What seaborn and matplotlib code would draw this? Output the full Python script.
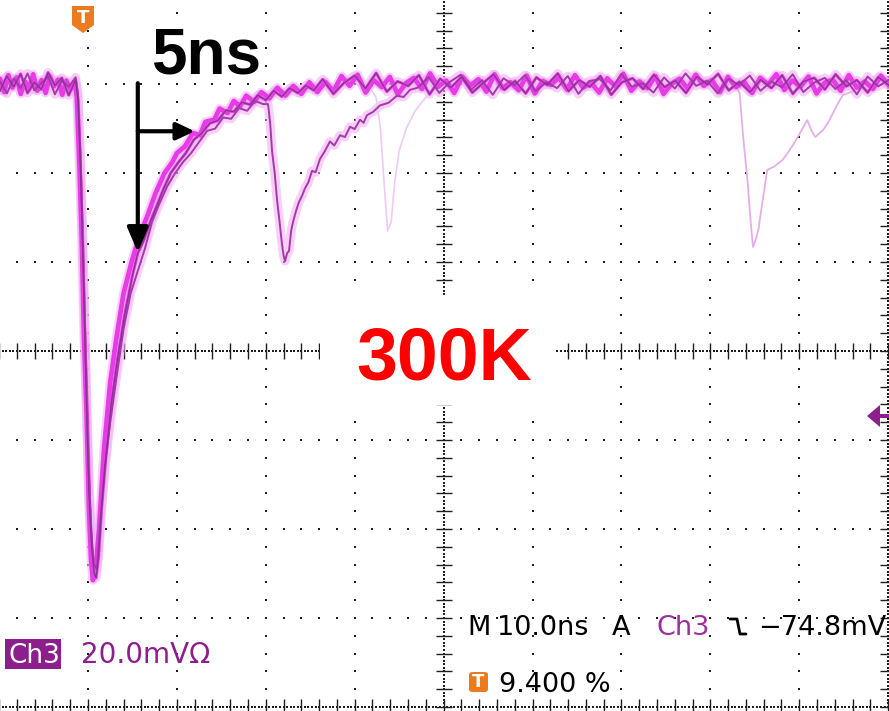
import numpy as np
import pandas as pd
import matplotlib
matplotlib.use("Agg")
import matplotlib.pyplot as plt
import matplotlib.image as mpimg
import seaborn as sns
from matplotlib.patches import Rectangle, Polygon, FancyBboxPatch
from matplotlib.lines import Line2D

# ---------------- data (time in ns from left edge of screen, voltage in mV) ----------------
# Trace A : bright persistence trace
A_pre_v = [1.2, -1.8, 2.0, -0.8, 1.5, -2.2, 0.6, -1.0, 2.2, -1.5, 0.9, -2.0, 1.8, -0.5, 1.0, -2.4, 0.8, -1.2, 0.5]
A_pulse_t = [8.75, 9.05, 9.3, 9.55, 9.85, 10.1, 10.35, 10.55, 10.9, 11.25, 11.8, 12.5, 13.2, 14.0, 14.9, 15.8,
             16.7, 17.6, 18.6, 19.5, 20.0, 20.9, 21.8, 22.6, 23.2, 24.2, 24.8, 25.7, 26.4, 27.1, 27.8, 28.7,
             29.5, 30.4, 31.3, 32.2, 33.1, 34.0, 34.9, 35.8]
A_pulse_v = [-3, -19, -35, -57, -75, -95, -107, -111.5, -108, -100, -82, -67, -57, -47, -40, -34,
             -29.5, -24.5, -20, -17.5, -15.5, -14, -11, -11.5, -8.5, -8, -5.5, -6.5, -3.8, -5, -2.6, -4,
             -1.8, -3.2, -0.8, -2.6, -0.4, -2.2, 0.4, -1.8]
A_post_v = [0.5, -1.6, 1.8, -0.4, 2.1, -1.9, 0.9, -0.7, 1.6, -2.3, 0.2, 1.4, -1.1, 2.4, -0.6, 0.8, -2.0, 1.7,
            -0.3, 1.1, -1.7, 2.2, -0.9, 0.4, -1.4, 1.9, -2.1, 0.7, -0.2, 1.5, -1.2, 2.0, -0.8, 0.3, -1.9, 1.3,
            -0.5, 2.3, -1.5, 0.6, -0.9, 1.8, -2.2, 0.1, 1.2, -1.0, 2.1, -0.4, 0.9, -1.8, 1.6, -0.7, 0.5, -2.0,
            1.4, -0.1, 2.2, -1.3, 0.8, -0.6, 1.7, -2.1, 0.3, 1.0, -1.5, 2.0, -0.8, 0.6, -1.1, 1.9, -0.3]

# Trace B : dark purple trace
B_pre_v = [-1.5, 1.8, -0.6, 2.3, -2.0, 0.4, -1.2, 2.6, -0.3, 1.4, -2.5, 0.9]
B_pulse_t = [8.9, 9.2, 9.5, 9.8, 10.1, 10.4, 10.7, 10.9, 11.2, 11.5, 12.0, 12.6, 13.3, 14.1, 15.0, 15.6, 16.3,
             17.0, 17.8, 18.5, 19.3, 20.2, 21.0, 21.9, 22.8, 23.7, 24.6, 25.5, 26.4, 27.3, 28.2, 29.1, 30.0,
             30.9, 31.8, 32.7, 33.6, 34.5, 35.4]
B_pulse_v = [-4, -22, -45, -70, -92, -104, -110, -111, -106, -96, -84, -72, -62, -52, -43, -38, -35,
             -31, -27, -23.5, -20, -17.5, -15.5, -12.5, -11, -8.8, -8.2, -5.9, -6.2, -4.1, -4.6, -2.5, -3.6,
             -1.5, -2.8, -0.9, -2.0, -0.3, -1.4]
B_post_v = [1.1, -2.2, 0.3, 1.9, -1.0, 2.5, -1.7, 0.6, -0.4, 2.0, -2.3, 1.2, -0.8, 1.6, -1.9, 0.2, 2.2, -1.3,
            0.7, -2.1, 1.5, -0.2, 2.4, -1.6, 0.9, -0.6, 1.8, -2.4, 0.4, 1.3, -1.1, 2.1, -0.7, 0.8, -2.0, 1.7,
            -0.1, 2.3, -1.4, 0.5, -1.8, 1.0, -0.9, 2.0, -2.2, 0.6, 1.4, -1.2, 2.2, -0.5, 0.9, -1.9, 1.6, -0.3]

# Trace C : trace with a second (after-)pulse
C_pre_v = [0.6, -2.1, 1.3, -0.9, 2.4, -1.4, 0.2, 1.7, -2.3, 0.8, -0.6, 1.5]
C_pulse_t = [8.85, 9.15, 9.45, 9.75, 10.05, 10.35, 10.65, 11.0, 11.4, 11.9, 12.5, 13.2, 14.0, 14.8, 15.6, 16.4,
             17.2, 18.0, 18.9, 19.8, 20.7, 21.6, 22.5, 23.4, 24.3, 25.2, 26.1, 27.0, 27.9, 28.8, 29.7, 30.25,
             30.5, 30.7, 31.0, 31.26, 31.55, 31.82, 32.0, 32.16, 32.4, 32.61, 32.85, 33.06, 33.4, 33.73, 34.1,
             34.41, 34.8, 35.2, 35.6, 36.1, 36.6, 37.22, 37.7, 38.35, 38.9, 39.47, 40.0, 40.6, 41.0, 41.38,
             42.1, 42.84, 43.8, 44.76, 45.5, 46.22]
C_pulse_v = [-2, -16, -38, -62, -85, -100, -108, -109, -98, -86, -76, -66, -55, -47, -42, -37,
             -31, -27, -23, -20, -17.5, -15.5, -13, -10.5, -10, -7.5, -7.8, -5.4, -6.0, -3.8, -4.5, -4.5,
             -9, -15, -20, -26, -31, -36, -38.5, -39.8, -38, -37.5, -33, -31, -28.5, -26.5, -25,
             -23.4, -22, -19.5, -19.8, -16.8, -15.2, -12.9, -13.8, -11.5, -11.9, -9.6, -10.1, -8.0, -8.7, -7.0,
             -6.2, -4.8, -4.2, -2.6, -2.9, -1.3]
C_post_v = [-0.8, 1.6, -2.0, 0.5, 2.1, -1.2, 0.9, -2.4, 1.3, -0.3, 2.0, -1.6, 0.4, -0.9, 1.8, -2.2, 0.7, 1.1,
            -1.4, 2.3, -0.6, 0.2, -1.9, 1.5, -1.0, 2.4, -0.4, 0.8, -2.1, 1.2, -0.2, 1.9, -1.5, 0.6, -0.7, 2.2,
            -1.8, 0.3, 1.4, -1.1, 0.9, -2.3, 1.7, -0.5, 1.0]

# Faint single-shot pulses
F1_t = [41.8, 42.4, 42.9, 43.3, 43.7, 44.1, 44.5, 45.0, 45.8, 46.8, 48.0, 49.5]
F1_v = [-1, -3, -10, -22, -33, -31, -22, -15, -10, -6, -3, -1]
F2_t = [82.5, 83.0, 83.3, 83.7, 84.2, 84.5, 84.8, 85.1, 85.4, 85.9, 86.4, 87.2, 88.1, 88.7, 89.3, 90.1,
        90.9, 91.4, 91.8, 92.7, 93.3, 93.8, 94.4, 94.9, 95.8, 96.8]
F2_v = [0.5, -1, -2, -12, -22, -30, -36.6, -35, -32.8, -26, -19.3, -18.5, -17.1, -15.5, -13.7, -11,
        -8.1, -10.5, -11.9, -10.3, -8.5, -6.5, -4.2, -2.5, -1.8, -0.9]

# screen settings
T_SPAN = (0.1, 100.1)      # ns  (10 ns/div)
V_SPAN = (-140.9, 18.9)    # mV  (20 mV/div)


def build(name, pre_v, pre_rng, pulse_t, pulse_v, post_v, post_rng):
    t = list(np.linspace(pre_rng[0], pre_rng[1], len(pre_v))) + list(pulse_t) + \
        list(np.linspace(post_rng[0], post_rng[1], len(post_v)))
    v = list(pre_v) + list(pulse_v) + list(post_v)
    return pd.DataFrame({"t": t, "mV": v, "trace": name})


dfA = build("A", A_pre_v, (0.1, 8.5), A_pulse_t, A_pulse_v, A_post_v, (36.7, 100.1))
dfB = build("B", B_pre_v, (0.1, 8.6), B_pulse_t, B_pulse_v, B_post_v, (36.4, 100.1))
dfC = build("C", C_pre_v, (0.1, 8.6), C_pulse_t, C_pulse_v, C_post_v, (47.1, 100.1))
dfF1 = pd.DataFrame({"t": F1_t, "mV": F1_v, "trace": "F1"})
dfF2 = pd.DataFrame({"t": F2_t, "mV": F2_v, "trace": "F2"})

# ---------------- figure ----------------
sns.set_theme(style="white")
plt.rcParams["font.family"] = ["DejaVu Sans"]

W, H = 889, 711
fig = plt.figure(figsize=(W / 100, H / 100), dpi=100)
fig.patch.set_facecolor("white")
ax = fig.add_axes([0, 0, 1, 1])
ax.set_xlim(*T_SPAN)
ax.set_ylim(*V_SPAN)
ax.axis("off")

GRID = "#1e1e1e"
# regular dotted graticule
v_minor = np.arange(-140, 20.01, 4)
t_minor = np.arange(0, 100.01, 2)
for tg in [10, 20, 30, 40, 60, 70, 80, 90]:
    ax.scatter(np.full_like(v_minor, tg), v_minor, s=3, marker="s", color=GRID, linewidths=0, zorder=1)
for vg in [0, -20, -40, -80, -100, -120]:
    ax.scatter(t_minor, np.full_like(t_minor, vg), s=3, marker="s", color=GRID, linewidths=0, zorder=1)

# centre axes and borders: dense dots + ticks
v_dense = np.arange(-140, 20.01, 0.8)
t_dense = np.arange(0, 100.01, 0.4)
for tg in [50, 99.95]:
    ax.scatter(np.full_like(v_dense, tg), v_dense, s=1.6, marker="s", color=GRID, linewidths=0, zorder=1)
for vg in [-60, -139.9]:
    ax.scatter(t_dense, np.full_like(t_dense, vg), s=1.6, marker="s", color=GRID, linewidths=0, zorder=1)
ax.hlines(v_minor, 50 - 0.9, 50 + 0.9, color=GRID, lw=1.0, zorder=1)
ax.vlines(t_minor, -60 - 1.8, -60 + 1.8, color=GRID, lw=1.0, zorder=1)
ax.hlines(v_minor, 99.1, 100.1, color=GRID, lw=1.0, zorder=1)
ax.vlines(t_minor, -140.9, -138.2, color=GRID, lw=1.0, zorder=1)

# ---------------- waveforms ----------------
kw = dict(x="t", y="mV", ax=ax, sort=False, estimator=None, legend=False)
for d in (dfA, dfB, dfC):
    sns.lineplot(data=d, color="#f5b0f5", lw=6.5, alpha=0.6, **kw)
sns.lineplot(data=dfF1, color="#f0cbf0", lw=1.2, **kw)
sns.lineplot(data=dfF2, color="#e6aee8", lw=1.3, **kw)
sns.lineplot(data=dfA, color="#e83be8", lw=3.4, **kw)
sns.lineplot(data=dfB, color="#e446e6", lw=2.2, **kw)
sns.lineplot(data=dfC, color="#a33aa9", lw=1.4, **kw)
sns.lineplot(data=dfB, color="#8a3290", lw=1.0, **kw)
for l in ax.lines:
    l.set_zorder(3)

# 5 ns annotation arrows
ax.annotate("", xy=(15.6, -37.8), xytext=(15.6, 0.2),
            arrowprops=dict(arrowstyle="-|>,head_length=0.75,head_width=0.32", lw=3.0, color="black",
                            mutation_scale=20, shrinkA=0, shrinkB=0), zorder=6)
ax.annotate("", xy=(22.0, -10.6), xytext=(15.6, -10.6),
            arrowprops=dict(arrowstyle="-|>,head_length=0.55,head_width=0.26", lw=3.0, color="black",
                            mutation_scale=20, shrinkA=0, shrinkB=0), zorder=6)


# ---------------- overlay texts & markers (pixel layout) ----------------
def fx(px):
    return px / W


def fy(py):
    return 1 - py / H


def rect(x0, y0, x1, y1, **k):
    fig.patches.append(Rectangle((fx(x0), fy(y1)), fx(x1) - fx(x0), fy(y0) - fy(y1),
                                 transform=fig.transFigure, **k))


PURPLE = "#8c1f8c"
ORANGE = "#ec7a1f"

# white box behind 300K
rect(320, 295, 556, 405, facecolor="white", edgecolor="none", zorder=4)
fig.text(fx(356), fy(379), "300K", fontsize=53, fontweight="bold", color="#ff0000",
         family="Liberation Sans", ha="left", va="baseline", zorder=5)
fig.text(fx(151), fy(74), "5ns", fontsize=46, fontweight="bold", color="black",
         family="Liberation Sans", ha="left", va="baseline", zorder=5)

# trigger position marker (top)
fig.patches.append(Polygon([(fx(72), fy(6)), (fx(94), fy(6)), (fx(94), fy(25)), (fx(83), fy(33)),
                            (fx(72), fy(25))], closed=True, transform=fig.transFigure,
                           facecolor=ORANGE, edgecolor="none", zorder=5))
fig.text(fx(83), fy(18), "T", fontsize=13, fontweight="bold", color="white", ha="center", va="center", zorder=6)

# trigger level marker (right)
fig.patches.append(Polygon([(fx(867), fy(416)), (fx(880), fy(405)), (fx(880), fy(427))], closed=True,
                           transform=fig.transFigure, facecolor=PURPLE, edgecolor="none", zorder=5))
rect(879, 414, 889, 418, facecolor=PURPLE, edgecolor="none", zorder=5)

# channel readout
rect(5, 639, 61, 669, facecolor=PURPLE, edgecolor="none", zorder=5)
fig.text(fx(8), fy(663), "Ch3", fontsize=19, color="white", ha="left", va="baseline", zorder=6)
fig.text(fx(81), fy(663), "20.0mVΩ", fontsize=20, color=PURPLE, ha="left", va="baseline", zorder=6)

# timebase / trigger readout
fig.text(fx(467), fy(635), "M", fontsize=19.5, color="black", ha="left", va="baseline", zorder=6)
fig.text(fx(497), fy(635), "10.0ns", fontsize=19.5, color="black", ha="left", va="baseline", zorder=6)
fig.text(fx(612), fy(635), "A", fontsize=19.5, color="black", ha="left", va="baseline", zorder=6)
fig.text(fx(656), fy(635), "Ch3", fontsize=19.5, color="#9b2fa0", ha="left", va="baseline", zorder=6)
fig.lines.append(Line2D([fx(730), fx(737), fx(740), fx(746)], [fy(619), fy(619), fy(634), fy(634)],
                        transform=fig.transFigure, color="black", lw=2.0, zorder=6))
fig.text(fx(886), fy(635), "−74.8mV", fontsize=19.5, color="black", ha="right", va="baseline", zorder=6)

fig.patches.append(FancyBboxPatch((fx(469), fy(692)), fx(19), 20 / H,
                                  boxstyle="round,pad=0.0,rounding_size=0.004", transform=fig.transFigure,
                                  facecolor=ORANGE, edgecolor="none", zorder=5))
fig.text(fx(478.5), fy(682), "T", fontsize=13, fontweight="bold", color="white", ha="center", va="center",
         zorder=6)
fig.text(fx(499), fy(692), "9.400 %", fontsize=19.5, color="black", ha="left", va="baseline", zorder=6)

fig.savefig("out.png", dpi=100, facecolor="white")

_img = mpimg.imread("out.png")
if _img.shape[:2] != (H, W):
    raise SystemExit("unexpected size %s" % (_img.shape,))
